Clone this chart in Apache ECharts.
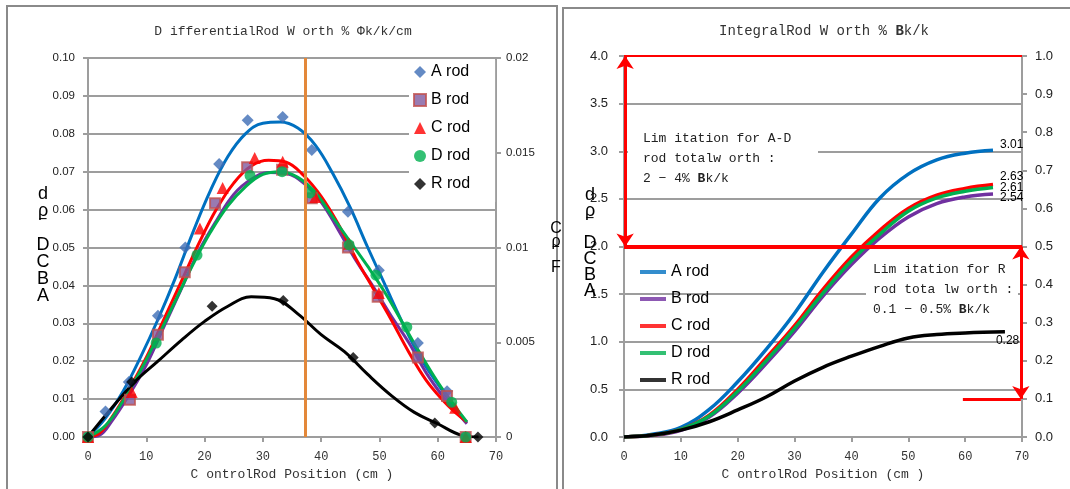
<!DOCTYPE html>
<html>
<head>
<meta charset="utf-8">
<script src="https://cdn.jsdelivr.net/npm/echarts@6.0.0/dist/echarts.min.js"></script>
<style>
html, body { margin: 0; padding: 0; background: #fff; }
#main { width: 1070px; height: 489px; }
</style>
</head>
<body>
<div id="main"></div>
<script>
var chartDom = document.getElementById('main');
var myChart = echarts.init(chartDom);

// rod names, legend order
var rodNames = ['A rod', 'B rod', 'C rod', 'D rod', 'R rod'];

// left chart: measured differential worth points [position cm, %dk/k/cm]
// (R rod is read on the right-hand axis)
var aDiffPts = [[0, 0], [3.0, 0.0067], [7.0, 0.0145], [12.0, 0.032], [16.7, 0.050], [22.5, 0.072], [27.4, 0.0836], [33.4, 0.0844], [38.4, 0.0757], [44.6, 0.0594], [49.9, 0.044], [56.6, 0.0248], [61.6, 0.0121], [64.8, 0]];
var bDiffPts = [[0, 0], [7.2, 0.0098], [12.0, 0.027], [16.6, 0.0435], [21.8, 0.0617], [27.3, 0.0712], [33.3, 0.0705], [38.4, 0.063], [44.6, 0.050], [49.7, 0.037], [56.6, 0.021], [61.6, 0.0108], [64.8, 0]];
var cDiffPts = [[0, 0], [7.5, 0.0119], [19.2, 0.055], [23.1, 0.0657], [28.6, 0.0736], [33.4, 0.0726], [39.0, 0.0633], [44.8, 0.051], [49.9, 0.038], [63.0, 0.0077], [64.8, 0]];
var dDiffPts = [[0, 0], [11.7, 0.0248], [18.7, 0.048], [27.8, 0.069], [33.3, 0.070], [38.1, 0.0644], [44.8, 0.0507], [49.4, 0.0427], [54.7, 0.029], [62.4, 0.0092], [64.8, 0]];
var rDiffPts = [[0, 0], [7.5, 0.0029], [21.3, 0.0069], [33.5, 0.0072], [45.5, 0.0042], [59.5, 0.00074], [66.9, 0]];

// left chart: fitted trend curves
var aDiffFit = [[0, 0], [3, 0.005], [6, 0.012], [9, 0.021], [12, 0.031], [15, 0.042], [18, 0.054], [21, 0.065], [24, 0.074], [27, 0.080], [30, 0.0828], [33, 0.0831], [36, 0.0815], [39, 0.077], [42, 0.0695], [45, 0.0605], [48, 0.050], [51, 0.040], [54, 0.030], [57, 0.021], [60, 0.014], [63, 0.0075], [65, 0.0037]];
var bDiffFit = [[0, 0], [2, 0.0005], [4, 0.004], [7, 0.011], [10, 0.019], [13, 0.029], [16, 0.039], [19, 0.049], [22, 0.057], [25, 0.064], [28, 0.068], [31, 0.0698], [34, 0.0695], [37, 0.067], [40, 0.062], [43, 0.0545], [46, 0.0465], [49, 0.0395], [52, 0.032], [55, 0.025], [58, 0.017], [61, 0.0105], [63, 0.007], [65, 0.0035]];
var cDiffFit = [[0, 0], [2, 0.001], [4, 0.005], [7, 0.0125], [10, 0.021], [13, 0.031], [16, 0.041], [19, 0.051], [22, 0.060], [25, 0.067], [28, 0.0715], [31, 0.0730], [34, 0.0725], [37, 0.069], [40, 0.0635], [43, 0.056], [46, 0.047], [49, 0.039], [52, 0.031], [55, 0.0225], [58, 0.015], [61, 0.0095], [63, 0.0065], [65, 0.004]];
var dDiffFit = [[0, 0], [3, 0.003], [6, 0.0095], [9, 0.0175], [12, 0.0265], [15, 0.036], [18, 0.0455], [21, 0.054], [24, 0.061], [27, 0.066], [30, 0.0693], [33, 0.0700], [36, 0.0685], [39, 0.0645], [42, 0.058], [45, 0.0515], [48, 0.045], [51, 0.038], [54, 0.030], [57, 0.022], [60, 0.0145], [63, 0.008], [65, 0.004]];
var rDiffFit = [[0, 0], [4, 0.0015], [8, 0.0029], [12, 0.0040], [16, 0.0051], [20, 0.0061], [24, 0.0069], [28, 0.0074], [32, 0.0073], [36, 0.0065], [40, 0.0054], [44, 0.0045], [48, 0.0033], [52, 0.0022], [56, 0.0013], [60, 0.0007], [64, 0.0001], [67, 0]];

// control rod position marked in orange
var markedPosition = 37.3;

// right chart: integral worth [position cm, %dk/k] (R rod on right axis)
var aIntegral = [[0, 0], [5, 0.03], [10, 0.10], [15, 0.29], [20, 0.58], [25, 0.92], [30, 1.30], [35, 1.73], [40, 2.13], [45, 2.51], [50, 2.76], [55, 2.91], [60, 2.98], [64.9, 3.01]];
var bIntegral = [[0, 0], [5, 0.015], [10, 0.07], [15, 0.21], [20, 0.46], [25, 0.77], [30, 1.11], [35, 1.48], [40, 1.81], [45, 2.09], [50, 2.31], [55, 2.45], [60, 2.52], [64.9, 2.55]];
var cIntegral = [[0, 0], [5, 0.02], [10, 0.08], [15, 0.23], [20, 0.50], [25, 0.83], [30, 1.17], [35, 1.55], [40, 1.89], [45, 2.17], [50, 2.40], [55, 2.54], [60, 2.61], [64.9, 2.65]];
var dIntegral = [[0, 0], [5, 0.02], [10, 0.08], [15, 0.22], [20, 0.48], [25, 0.80], [30, 1.14], [35, 1.51], [40, 1.85], [45, 2.13], [50, 2.37], [55, 2.51], [60, 2.58], [64.9, 2.62]];
var rIntegral = [[0, 0], [5, 0.005], [10, 0.018], [15, 0.04], [20, 0.071], [25, 0.105], [30, 0.147], [35, 0.183], [40, 0.212], [45, 0.238], [50, 0.260], [55, 0.269], [60, 0.273], [67, 0.276]];
var totalWorthLabels = ['3.01', '2.54', '2.63', '2.61', '0.28'];

// limits drawn in red on the right chart
var adLimit = [2, 4];      // %dk/k, left axis
var rLimit = [0.1, 0.5];   // %dk/k, right axis

var sans = 'Liberation Sans';
var mono = 'Liberation Mono';
var gray = '#9d9d9d';
var lineColors = ['#0070C0', '#7030A0', '#FF0000', '#00B050', '#000000'];

function xAxisOf(grid) {
  return {
    gridIndex: grid, type: 'value', min: 0, max: 70, interval: 10,
    axisLine: { lineStyle: { color: gray, width: 2 } },
    axisTick: { show: true, length: 5, lineStyle: { color: gray, width: 2 } },
    splitLine: { show: false },
    axisLabel: { fontFamily: mono, fontSize: 12, color: '#333', margin: 14 },
    name: 'C ontrolRod Position (cm )', nameLocation: 'middle', nameGap: 31,
    nameTextStyle: { fontFamily: mono, fontSize: 13, color: '#333' }
  };
}

function yAxisOf(grid, pos, max, step, fmt, size, margin, gridLines) {
  return {
    gridIndex: grid, type: 'value', position: pos, min: 0, max: max, interval: step,
    axisLine: { show: true, lineStyle: { color: gray, width: 2 } },
    axisTick: { show: true, length: 5, lineStyle: { color: gray, width: 2 } },
    splitLine: { show: gridLines, lineStyle: { color: gray, width: 2 } },
    axisLabel: { fontFamily: sans, fontSize: size, color: '#222', margin: margin, formatter: fmt }
  };
}

var series = [];

// measured points first, so the left legend takes their markers
var pts = [aDiffPts, bDiffPts, cDiffPts, dDiffPts, rDiffPts];
var markers = [
  { symbol: 'diamond', size: 12, style: { color: '#3D6DB5' } },
  { symbol: 'rect', size: 10, style: { color: '#7F5A9F', borderColor: '#C0504D', borderWidth: 2 } },
  { symbol: 'triangle', size: 12, style: { color: '#FF0000' } },
  { symbol: 'circle', size: 11, style: { color: '#00B050' } },
  { symbol: 'diamond', size: 11, style: { color: '#000000' } }
];
pts.forEach(function (d, i) {
  series.push({
    name: rodNames[i], type: 'scatter', xAxisIndex: 0, yAxisIndex: i === 4 ? 1 : 0,
    data: d, symbol: markers[i].symbol, symbolSize: markers[i].size,
    itemStyle: markers[i].style, z: 4, silent: true
  });
});

series[0].markLine = {
  silent: true, symbol: ['none', 'none'], label: { show: false },
  lineStyle: { color: '#E3883A', width: 3, type: 'solid' },
  data: [{ xAxis: markedPosition }]
};

var fits = [aDiffFit, bDiffFit, cDiffFit, dDiffFit, rDiffFit];
fits.forEach(function (d, i) {
  series.push({
    name: rodNames[i], type: 'line', xAxisIndex: 0, yAxisIndex: i === 4 ? 1 : 0,
    data: d, smooth: 0.4, showSymbol: false, symbol: 'none', silent: true,
    lineStyle: { color: lineColors[i], width: 3 }, itemStyle: { color: lineColors[i] }, z: 3
  });
});

var integrals = [aIntegral, bIntegral, cIntegral, dIntegral, rIntegral];
var labelOffsets = [[-1, -6], [-1, 4], [-1, -8], [-1, 0], [-17, 9]];
integrals.forEach(function (d, i) {
  series.push({
    name: rodNames[i], type: 'line', xAxisIndex: 1, yAxisIndex: i === 4 ? 3 : 2,
    data: d, smooth: 0.4, showSymbol: false, symbol: 'none', silent: true,
    lineStyle: { color: lineColors[i], width: 3.5 }, itemStyle: { color: lineColors[i] }, z: 3,
    endLabel: {
      show: true, formatter: totalWorthLabels[i], color: '#000',
      fontFamily: sans, fontSize: 12, offset: labelOffsets[i]
    }
  });
});

var arrowEnd = { symbol: 'arrow', symbolSize: [13, 13] };
series[10].markLine = {
  silent: true, symbol: ['none', 'none'], label: { show: false }, z: 5,
  lineStyle: { color: '#FF0000', width: 3, type: 'solid' },
  data: [
    { yAxis: adLimit[1], lineStyle: { width: 2 } },
    { yAxis: adLimit[0], lineStyle: { width: 4 } },
    [Object.assign({ coord: [0.2, adLimit[1]] }, arrowEnd), Object.assign({ coord: [0.2, adLimit[0]] }, arrowEnd)]
  ]
};
series[14].markLine = {
  silent: true, symbol: ['none', 'none'], label: { show: false }, z: 5,
  lineStyle: { color: '#FF0000', width: 3, type: 'solid' },
  data: [
    [Object.assign({ coord: [69.8, rLimit[1]] }, arrowEnd), Object.assign({ coord: [69.8, rLimit[0]] }, arrowEnd)],
    [{ coord: [59.6, rLimit[0]] }, { coord: [69.8, rLimit[0]] }]
  ]
};

function stackText(x, top, lines, lh, size) {
  return {
    type: 'text', z: 5, silent: true,
    style: {
      text: lines.join('\n'), x: x, y: top, align: 'center', verticalAlign: 'top',
      fontFamily: sans, fontSize: size, lineHeight: lh, fill: '#000'
    }
  };
}

var noteRich = { b: { fontFamily: mono, fontSize: 13, fontWeight: 'bold', fill: '#222', lineHeight: 20 } };

var option = {
  animation: false,
  backgroundColor: '#fff',
  title: [
    {
      text: 'D ifferentialRod W orth % Φk/k/cm', left: 283, top: 25, textAlign: 'center', padding: 0,
      textStyle: { fontFamily: mono, fontSize: 13, fontWeight: 'normal', color: '#333' }
    },
    {
      text: 'IntegralRod W orth % {b|B}k/k', left: 824, top: 24, textAlign: 'center', padding: 0,
      textStyle: {
        fontFamily: mono, fontSize: 14, fontWeight: 'normal', color: '#333',
        rich: { b: { fontFamily: mono, fontSize: 14, fontWeight: 'bold', color: '#333' } }
      }
    }
  ],
  legend: [
    {
      orient: 'vertical', left: 409, top: 60, padding: [4, 25, 10, 4],
      backgroundColor: '#fff', itemWidth: 12, itemHeight: 12, itemGap: 12, selectedMode: false,
      textStyle: { fontFamily: sans, fontSize: 16, color: '#000', lineHeight: 16 },
      data: rodNames.map(function (n, i) {
        return { name: n, icon: markers[i].symbol, itemStyle: markers[i].style };
      })
    },
    {
      orient: 'vertical', left: 640, top: 264, padding: 0,
      itemWidth: 26, itemHeight: 4, itemGap: 11, selectedMode: false,
      textStyle: { fontFamily: sans, fontSize: 16, color: '#000', lineHeight: 16 },
      data: rodNames.map(function (n, i) {
        return { name: n, icon: 'rect', itemStyle: { color: lineColors[i], borderWidth: 0 } };
      })
    }
  ],
  grid: [
    { left: 88, top: 58, width: 408, height: 379, containLabel: false },
    { left: 624, top: 56, width: 398, height: 381, containLabel: false }
  ],
  xAxis: [xAxisOf(0), xAxisOf(1)],
  yAxis: [
    yAxisOf(0, 'left', 0.1, 0.01, function (v) { return v.toFixed(2); }, 11.5, 13, true),
    yAxisOf(0, 'right', 0.02, 0.005, function (v) { return v === 0 ? '0' : String(parseFloat(v.toFixed(3))); }, 11.5, 10, false),
    yAxisOf(1, 'left', 4, 0.5, function (v) { return v.toFixed(1); }, 13, 16, true),
    yAxisOf(1, 'right', 1, 0.1, function (v) { return v.toFixed(1); }, 13, 13, false)
  ],
  graphic: [
    { type: 'rect', silent: true, z: 0, shape: { x: 7, y: 6, width: 550, height: 520 }, style: { fill: 'none', stroke: '#8a8a8a', lineWidth: 2 } },
    { type: 'rect', silent: true, z: 0, shape: { x: 563, y: 8, width: 520, height: 520 }, style: { fill: 'none', stroke: '#8a8a8a', lineWidth: 2 } },
    { type: 'rect', silent: true, z: 1, shape: { x: 628, y: 122, width: 190, height: 68 }, style: { fill: '#fff' } },
    {
      type: 'text', silent: true, z: 5,
      style: {
        text: 'Lim itation for A-D\nrod totalw orth :\n2 − 4% {b|B}k/k', x: 643, y: 129,
        fontFamily: mono, fontSize: 13, lineHeight: 20, fill: '#222', rich: noteRich
      }
    },
    { type: 'rect', silent: true, z: 1, shape: { x: 866, y: 258, width: 152, height: 62 }, style: { fill: '#fff' } },
    {
      type: 'text', silent: true, z: 5,
      style: {
        text: 'Lim itation for R\nrod tota lw orth :\n0.1 − 0.5% {b|B}k/k', x: 873, y: 260,
        fontFamily: mono, fontSize: 13, lineHeight: 20, fill: '#222', rich: noteRich
      }
    },
    stackText(43, 186, ['d', 'ρ', '‾', 'D', 'C', 'B', 'A'], 17, 18),
    stackText(556, 222, ['C', 'ρ', '‾', 'F'], 13, 16),
    stackText(590, 187, ['d', 'ρ', '‾', 'D', 'C', 'B', 'A'], 16, 18)
  ],
  series: series
};

option && myChart.setOption(option);
</script>
</body>
</html>
